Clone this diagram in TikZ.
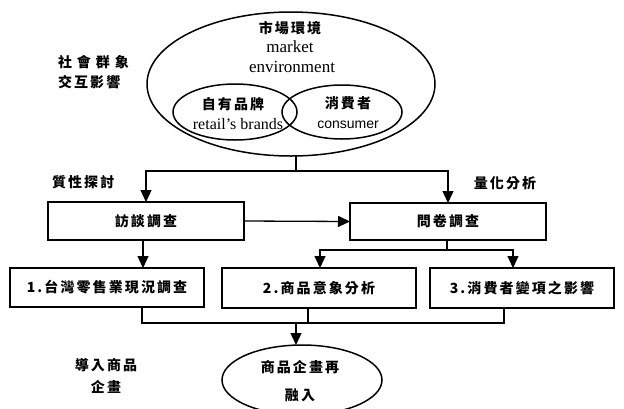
\documentclass[tikz,border=0pt]{standalone}
\usepackage{fontspec}
\setmainfont{Liberation Serif}
\newfontfamily\cjk{Noto Sans CJK TC}[LetterSpace=15]
\newfontfamily\arialf{Liberation Sans}
\usetikzlibrary{arrows.meta,shapes.geometric}
\begin{document}
\begin{tikzpicture}[x=1pt,y=-1pt,
  line width=1.3pt,
  every node/.style={inner sep=0pt,outer sep=0pt},
  oval/.style={draw,ellipse,line width=1.5pt},
  box/.style={draw,rectangle,line width=1.5pt},
  cjkt/.style={font=\cjk\bfseries\fontsize{14}{16}\selectfont},
  ent/.style={font=\fontsize{16}{18}\selectfont},
  arr/.style={-{Triangle[width=11pt,length=12pt]}},
  ]
\useasboundingbox (0,0) rectangle (624,408);
\clip (0,0) rectangle (624,408);
% ellipses
\node[oval,minimum width=288pt,minimum height=144pt] (market) at (291,84) {};
\node[oval,minimum width=124pt,minimum height=56pt] (brand) at (235,112) {};
\node[oval,minimum width=120pt,minimum height=54pt] (cons) at (342,112) {};
\node[oval,minimum width=160pt,minimum height=70pt] (merge) at (302,380) {};
% ellipse texts
\node[cjkt] (t1) at (290,28) {市場環境};
\node[ent,font=\fontsize{17}{19}\selectfont] (t2) at (290,47) {market};
\node[ent,font=\fontsize{17}{19}\selectfont] (t3) at (292,67) {environment};
\node[cjkt] (t4) at (233,104) {自有品牌};
\node[ent] (t5) at (238,124) {retail’s brands};
\node[cjkt] (t6) at (348,103) {消費者};
\node[font=\arialf\fontsize{14}{16}\selectfont] (t7) at (348,125) {consumer};
\node[cjkt] (t8) at (300,367) {商品企畫再};
\node[cjkt] (t9) at (300,395) {融入};
% side labels
\node[cjkt,anchor=west] (s1) at (58,62) {社\hspace{5pt}會\hspace{5pt}群\hspace{5pt}象};
\node[cjkt,anchor=west] (s2) at (58,82) {交互影響};
\node[cjkt,anchor=west] (s3) at (52,182) {質性探討};
\node[cjkt] (s4) at (505,183) {量化分析};
\node[cjkt] (s5) at (106,365) {導入商品};
\node[cjkt] (s6) at (106,387) {企畫};
% boxes
\node[box,minimum width=196pt,minimum height=38pt,cjkt] (interview) at (146,221) {訪談調查};
\node[box,minimum width=196pt,minimum height=37pt,cjkt] (quest) at (448,221.5) {問卷調查};
\node[box,minimum width=194pt,minimum height=39pt,cjkt] (b1) at (107,287.5) {1.台灣零售業現況調查};
\node[box,minimum width=194pt,minimum height=40pt,cjkt] (b2) at (319,288) {2.商品意象分析};
\node[box,minimum width=184pt,minimum height=40pt,cjkt] (b3) at (522,288) {3.消費者變項之影響};
% connectors
\coordinate (j1) at (296,171);
\coordinate (j1l) at (146,171);
\coordinate (j1r) at (448,171);
\draw (j1 |- market.south) -- (j1);
\draw[arr] (j1) -- (j1l) -- (j1l |- interview.north);
\draw[arr] (j1) -- (j1r) -- (j1r |- quest.north);
\draw[arr] (interview.east) -- (quest.west);
\coordinate (d1) at (143,0);
\draw[arr] (d1 |- interview.south) -- (d1 |- b1.north);
\coordinate (j2) at (447,250);
\coordinate (j2l) at (320,250);
\coordinate (j2r) at (513,250);
\draw (j2 |- quest.south) -- (j2);
\draw[arr] (j2) -- (j2l) -- (j2l |- b2.north);
\draw[arr] (j2) -- (j2r) -- (j2r |- b3.north);
\coordinate (j3l) at (142,323);
\coordinate (j3m) at (308,323);
\coordinate (j3r) at (504,323);
\coordinate (j3) at (296,323);
\draw (j3l |- b1.south) -- (j3l) -- (j3r) -- (j3r |- b3.south);
\draw (j3m |- b2.south) -- (j3m);
\draw[arr] (j3) -- (j3 |- merge.north);
\end{tikzpicture}
\end{document}
